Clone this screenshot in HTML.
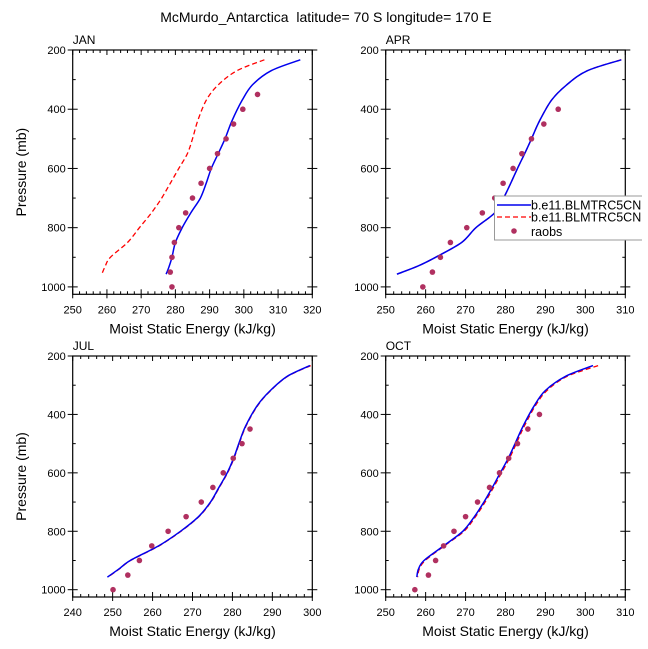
<!DOCTYPE html>
<html><head><meta charset="utf-8">
<style>
html,body{margin:0;padding:0;background:#fff;}
svg{display:block;font-family:"Liberation Sans",Arial,sans-serif;}
</style></head>
<body>
<svg id="chart" width="648" height="649" viewBox="0 0 648 649" xmlns="http://www.w3.org/2000/svg">
<rect width="648" height="649" fill="#fff"/>
<defs><clipPath id="legclip"><rect x="490" y="190" width="152" height="60"/></clipPath></defs>
<text x="326" y="22" font-size="14" text-anchor="middle" style="white-space:pre">McMurdo_Antarctica  latitude= 70 S longitude= 170 E</text>
</svg>
<script>
// Model pressure levels (mb) and raob levels
const modelLev = [233, 270, 318, 370, 440, 500, 550, 600, 650, 700, 750, 800, 850, 900, 930, 957];
const raobLev = [1000, 950, 900, 850, 800, 750, 700, 650, 600, 550, 500, 450, 400, 350];

const janBlue = [316.5, 308, 302.5, 299.5, 296.5, 294.5, 292.5, 290.5, 289, 287.3, 284.5, 282, 280, 279, 278.2, 277.3];
const janRed  = [306, 298, 292.5, 289, 286.5, 285, 283.5, 281, 278.5, 276, 273, 269.5, 266, 261, 259.5, 258.5];
const janObs  = [279, 278.5, 279, 279.7, 281, 283, 285, 287.5, 290, 292.3, 294.8, 297, 299.7, 304];

const aprBlue = [309, 300.5, 295.3, 291.5, 288.5, 286.5, 284.8, 283, 281.3, 279.5, 277.3, 272.6, 269, 262.5, 258, 252.8];
const aprRed  = [309, 300.5, 295.3, 291.5, 288.5, 286.5, 284.8, 283, 281.3, 279.5, 277.3, 272.6, 269, 262.5, 258, 252.8];
const aprObs  = [259.3, 261.7, 263.7, 266.2, 270.3, 274.2, 277.3, 279.4, 281.9, 284.1, 286.5, 289.6, 293.2, null];

const julBlue = [299.4, 293.7, 289.5, 286.2, 283.3, 281.6, 280.3, 278.7, 276.6, 274.5, 271.5, 267, 261.5, 254.4, 251.5, 248.7];
const julRed  = [299.6, 293.8, 289.6, 286.3, 283.4, 281.7, 280.4, 278.8, 276.7, 274.6, 271.6, 267.1, 261.6, 254.5, 251.6, 248.8];
const julObs  = [250.1, 253.8, 256.7, 259.8, 263.9, 268.4, 272.2, 275.1, 277.7, 280.2, 282.4, 284.4, null, null];

const octBlue = [301.9, 295, 290, 287.2, 284.4, 282.4, 280.7, 278.7, 276.7, 274.6, 272.2, 269.3, 264.5, 259.6, 258.2, 257.8];
const octRed  = [303.2, 295.4, 290.4, 287.5, 284.7, 282.7, 281, 279, 277, 274.9, 272.5, 269.6, 264.7, 259.9, 258.4, 258];
const octObs  = [257.3, 260.7, 262.5, 264.5, 267.1, 270, 273, 276, 278.5, 280.8, 283, 285.6, 288.5, null];

const panelNames = ["JAN", "APR", "JUL", "OCT"];
const xRanges = [[250, 320], [250, 310], [240, 300], [250, 310]];
const yRange = [200, 1025];

const NS = "http://www.w3.org/2000/svg";
const svg = document.getElementById("chart");
function mk(tag, attrs, parent) {
  const e = document.createElementNS(NS, tag);
  for (const k in attrs) e.setAttribute(k, attrs[k]);
  (parent || svg).appendChild(e);
  return e;
}

const boxes = [
  {x0: 72.7, x1: 312.3, y0: 50, y1: 294.3},
  {x0: 385.7, x1: 625.3, y0: 50, y1: 294.3},
  {x0: 72.7, x1: 312.3, y0: 356, y1: 597},
  {x0: 385.7, x1: 625.3, y0: 356, y1: 597}
];
const series = [
  [janBlue, janRed, janObs],
  [aprBlue, aprRed, aprObs],
  [julBlue, julRed, julObs],
  [octBlue, octRed, octObs]
];

function smoothPath(pts) {
  let d = "M" + pts[0][0].toFixed(1) + "," + pts[0][1].toFixed(1);
  for (let k = 0; k < pts.length - 1; k++) {
    const p0 = pts[Math.max(0, k - 1)], p1 = pts[k], p2 = pts[k + 1], p3 = pts[Math.min(pts.length - 1, k + 2)];
    const c1x = p1[0] + (p2[0] - p0[0]) / 6, c1y = p1[1] + (p2[1] - p0[1]) / 6;
    const c2x = p2[0] - (p3[0] - p1[0]) / 6, c2y = p2[1] - (p3[1] - p1[1]) / 6;
    d += " C" + c1x.toFixed(1) + "," + c1y.toFixed(1) + " " + c2x.toFixed(1) + "," + c2y.toFixed(1) + " " + p2[0].toFixed(1) + "," + p2[1].toFixed(1);
  }
  return d;
}

boxes.forEach((b, i) => {
  const [xmin, xmax] = xRanges[i];
  const sx = v => b.x0 + (v - xmin) / (xmax - xmin) * (b.x1 - b.x0);
  const sy = p => b.y0 + (p - yRange[0]) / (yRange[1] - yRange[0]) * (b.y1 - b.y0);
  const g = mk("g", {});
  
  

  const lbl = mk("text", {x: b.x0, y: b.y0 - 6, "font-size": 12}, g);
  
  
  lbl.textContent = panelNames[i];

  const tg = mk("g", {stroke: "#000", "stroke-width": 1}, g);
  
  
  for (let v = xmin; v <= xmax + 0.001; v += 2) {
    const major = Math.abs((v - xmin) % 10) < 0.01;
    const L = major ? 5 : 3;
    const x = sx(v);
    mk("line", {x1: x, x2: x, y1: b.y1, y2: b.y1 - L}, tg);
    mk("line", {x1: x, x2: x, y1: b.y0, y2: b.y0 + L}, tg);
    if (major) {
      const t = mk("text", {x: x, y: b.y1 + 19, "font-size": 11, "text-anchor": "middle", stroke: "none"}, g);
      
      
      t.textContent = v;
    }
  }
  for (let p = 200; p <= 1000; p += 100) {
    const major = p % 200 === 0;
    const L = major ? 5 : 3;
    const y = sy(p);
    mk("line", {x1: b.x0, x2: b.x0 + L, y1: y, y2: y}, tg);
    mk("line", {x1: b.x1, x2: b.x1 - L, y1: y, y2: y}, tg);
    if (major) {
      mk("line", {x1: b.x0, x2: b.x0 - 5, y1: y, y2: y}, tg);
      mk("line", {x1: b.x1, x2: b.x1 + 5, y1: y, y2: y}, tg);
      const t = mk("text", {x: b.x0 - 7, y: y + 4, "font-size": 11, "text-anchor": "end", stroke: "none"}, g);
      
      
      t.textContent = p;
    }
  }
  for (let v = xmin; v <= xmax + 0.001; v += 10) {
    mk("line", {x1: sx(v), x2: sx(v), y1: b.y1, y2: b.y1 + 4}, tg);
  }
  const frame = mk("rect", {x: b.x0, y: b.y0, width: b.x1 - b.x0, height: b.y1 - b.y0, fill: "none", stroke: "#000", "stroke-width": 1.2}, g);
  
  

  const xt = mk("text", {x: (b.x0 + b.x1) / 2, y: b.y1 + 39, "font-size": 14, "text-anchor": "middle"}, g);
  
  
  xt.textContent = "Moist Static Energy (kJ/kg)";
  if (i % 2 === 0) {
    const cy = (b.y0 + b.y1) / 2;
    const yt = mk("text", {x: 26, y: cy, "font-size": 14, "text-anchor": "middle", transform: "rotate(-90 26 " + cy + ")"}, g);
    
    
    yt.textContent = "Pressure (mb)";
  }

  const [blue, red, obs] = series[i];
  const pts = arr => arr.map((v, k) => [sx(v), sy(modelLev[k])]);
  const rl = mk("path", {d: smoothPath(pts(red)), fill: "none", stroke: "#ff0000", "stroke-width": 1.3, "stroke-dasharray": "5,3"}, g);
  
  
  const bl = mk("path", {d: smoothPath(pts(blue)), fill: "none", stroke: "#0000ee", "stroke-width": 1.5}, g);
  
  
  obs.forEach((v, k) => {
    if (v === null) return;
    const c = mk("circle", {cx: sx(v), cy: sy(raobLev[k]), r: 2.8, fill: "#b03060"}, g);
    
    
  });
});

// legend (APR panel)
const lg = mk("g", {"clip-path": "url(#legclip)"});


mk("rect", {x: 494.5, y: 196, width: 160, height: 44, fill: "#fff", stroke: "#999", "stroke-width": 1}, lg);
const e1 = mk("line", {x1: 497, x2: 531, y1: 205, y2: 205, stroke: "#0000ee", "stroke-width": 1.5}, lg);


const e2 = mk("line", {x1: 497, x2: 531, y1: 217, y2: 217, stroke: "#ff0000", "stroke-width": 1.3, "stroke-dasharray": "5,3"}, lg);


const e3 = mk("circle", {cx: 514, cy: 231, r: 2.8, fill: "#b03060"}, lg);


const labels = ["b.e11.BLMTRC5CN.f19_g16.001", "b.e11.BLMTRC5CN.f19_g16.002", "raobs"];
[209.5, 221.5, 236].forEach((y, k) => {
  const t = mk("text", {x: 531, y: y, "font-size": 12.5}, lg);
  
  
  t.textContent = labels[k];
});
</script>
</body></html>
